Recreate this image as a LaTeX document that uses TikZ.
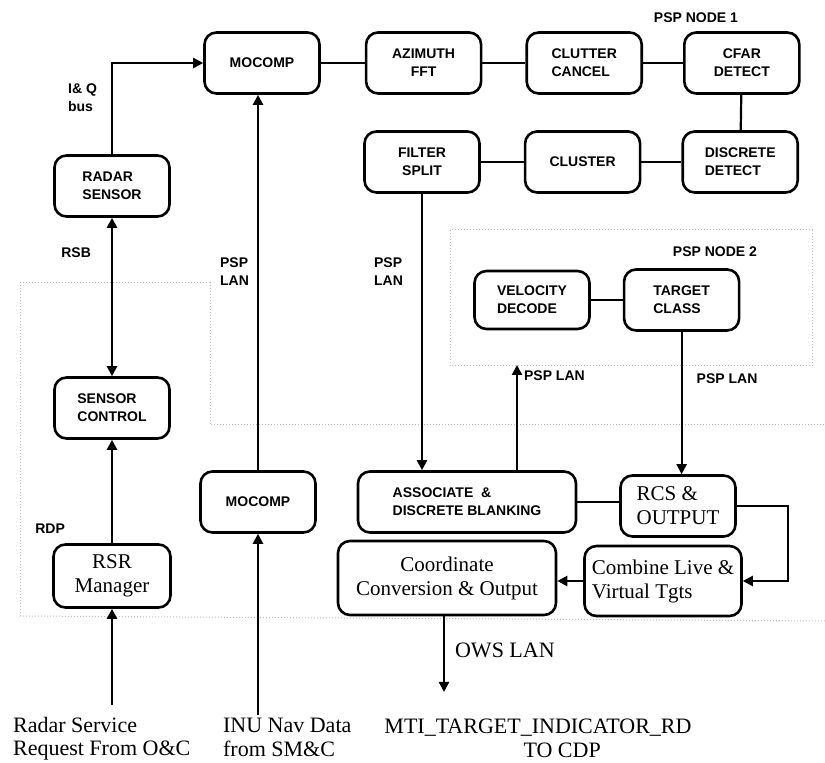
\documentclass[tikz,border=0pt]{standalone}
\usepackage{fontspec}
\setmainfont{Liberation Serif}
\setsansfont{Liberation Sans}
\usetikzlibrary{arrows.meta, positioning}

\begin{document}
\begin{tikzpicture}[x=0.5pt,y=-0.5pt,>={Triangle[length=5pt,width=5pt]},line width=1.1pt,
  block/.style={draw,line width=1.3pt,rounded corners=6pt,minimum width=57.5pt,minimum height=30.5pt,inner sep=2pt,font=\sffamily\bfseries\fontsize{7}{9}\selectfont,align=left},
  rblock/.style={block,font=\fontsize{10.5}{12}\selectfont,align=center},
  lbl/.style={font=\sffamily\bfseries\fontsize{7}{9}\selectfont,align=left,inner sep=0pt},
  ext/.style={font=\fontsize{11}{11.8}\selectfont,align=left,inner sep=0pt},
  zone/.style={gray!50,densely dotted,line width=0.5pt}]
  \useasboundingbox (0,0) rectangle (825,763);
  \draw[zone] (20,616) -- (20,283) -- (210,283) -- (210,425) -- (825,425);
  \draw[zone] (20,616) -- (825,621);
  \draw[zone] (450,230) rectangle (812,366);
  \node[block] (moc1) at (262,63) {MOCOMP};
  \node[block,right=22pt of moc1,align=center] (azi) {AZIMUTH\\FFT};
  \node[block,right=21.5pt of azi] (clut) {CLUTTER\\CANCEL};
  \node[block,right=20pt of clut,align=center] (cfar) {CFAR\\DETECT};
  \node[lbl] (node1) at (696,18) {PSP NODE 1};
  \node[block,align=center] (filt) at (422,162) {FILTER\\SPLIT};
  \node[block,right=21.5pt of filt] (clus) {CLUSTER};
  \node[block,right=20pt of clus] (disc) {DISCRETE\\DETECT};
  \node[block] (radar) at (112,186) {RADAR\\SENSOR};
  \node[block] (sctl) at (112,408) {SENSOR\\CONTROL};
  \node[rblock,minimum width=58.5pt,minimum height=31.5pt] (rsr) at (112,576) {RSR\\Manager};
  \node[block] (moc2) at (258,502) {MOCOMP};
  \node[block,minimum width=109pt] (assoc) at (467,502) {ASSOCIATE \ \&\\DISCRETE BLANKING};
  \node[rblock,align=left] (rcs) at (678,506) {RCS \&\\OUTPUT};
  \node[rblock,minimum width=109pt,minimum height=37pt] (coord) at (447,578) {Coordinate\\Conversion \& Output};
  \node[rblock,align=left,minimum width=78.5pt,minimum height=35pt] (comb) at (663,581) {Combine Live \&\\Virtual Tgts};
  \node[lbl] (node2) at (715,252) {PSP NODE 2};
  \node[block,minimum height=29pt] (velo) at (532,300) {VELOCITY\\DECODE};
  \node[block,right=16pt of velo] (targ) {TARGET\\CLASS};
  \coordinate (rsreq) at (112,705);
  \coordinate (inu) at (258,715);
  \coordinate (n2in) at (517,365);
  \coordinate (bend) at (788,506);
  \coordinate (owsend) at (444,692);
  \node[ext,anchor=north west] (rsrtxt) at (12,716) {Radar Service\\Request From O\&C};
  \node[ext,anchor=north west] (inutxt) at (222,717) {INU Nav Data\\from SM\&C};
  \node[ext,align=center,anchor=north] (mti) at (538,718) {MTI\_TARGET\_INDICATOR\_RD\\\hspace*{2.2em}TO CDP};
  \draw (moc1) -- (azi);
  \draw (azi) -- (clut);
  \draw (clut) -- (cfar);
  \draw (cfar) -- (disc);
  \draw (disc) -- (clus);
  \draw (clus) -- (filt);
  \draw (velo) -- (targ);
  \draw (assoc.east) -- (assoc.east -| rcs.west);
  \draw[->] (radar) |- node[lbl,pos=0.31,left=7pt] {I\& Q\\bus} (moc1);
  \draw[<->] (radar) -- node[lbl,pos=0.22,left=10pt] {RSB} (sctl);
  \draw[->] (rsr) -- node[lbl,pos=0.14,left=23pt] {RDP} (sctl);
  \draw[->] (rsreq) -- (rsr);
  \draw[->] (moc2) -- node[lbl,pos=0.53,left=4pt] {PSP\\LAN} (moc2 |- moc1.south);
  \draw[->] (inu) -- (moc2);
  \draw[->] (filt) -- node[lbl,pos=0.28,left=9pt] {PSP\\LAN} (filt |- assoc.north);
  \draw[->] (assoc.north -| n2in) -- (n2in) node[lbl,at end,anchor=north west,xshift=3pt,yshift=-2.5pt] {PSP LAN};
  \draw[->] (targ) -- node[lbl,pos=0.33,right=7pt] {PSP LAN} (targ |- rcs.north);
  \draw[->] (rcs) -- (bend) |- (comb);
  \draw[->] (comb.west) -- (comb.west -| coord.east);
  \draw[->] (coord.south -| owsend) -- node[ext,pos=0.45,right=5pt] {OWS LAN} (owsend);
\end{tikzpicture}
\end{document}
